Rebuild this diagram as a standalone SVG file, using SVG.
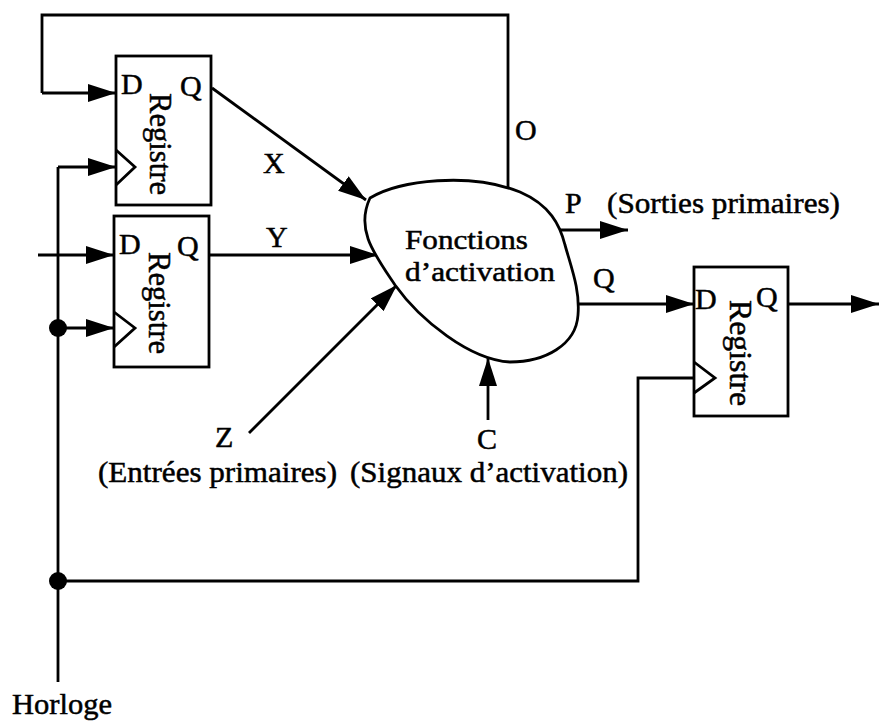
<svg xmlns="http://www.w3.org/2000/svg" width="879" height="722" viewBox="0 0 879 722">
<defs>
<marker id="arr" markerUnits="userSpaceOnUse" markerWidth="28" markerHeight="18" refX="28" refY="9" orient="auto">
<path d="M0,0 L28,9 L0,18 Z" fill="#000"/>
</marker>
<style>
.w{fill:none;stroke:#000;stroke-width:2.8}
.a{fill:none;stroke:#000;stroke-width:2.8;marker-end:url(#arr)}
.b{fill:#fff;stroke:#000;stroke-width:2.8}
text{font-family:"Liberation Serif","Times New Roman",serif;font-size:30px;fill:#000;stroke:#000;stroke-width:0.5}
.m{text-anchor:middle}
.r{font-size:31px}
.f{font-size:28px}
</style>
</defs>
<rect width="879" height="722" fill="#fff"/>
<g id="connectors">
<polyline class="w" points="508,188 508,15 42,15 42,93"/>
<line class="a" x1="42" y1="93" x2="116" y2="93"/>
<line class="a" x1="38" y1="255" x2="114" y2="255"/>
<polyline class="w" points="58,682 58,167"/>
<line class="a" x1="58" y1="167" x2="116" y2="167"/>
<line class="a" x1="58" y1="328" x2="114" y2="328"/>
<polyline class="w" points="58,581 638,581 638,378 694,378"/>
<circle cx="58" cy="328" r="9" fill="#000"/>
<circle cx="58" cy="581" r="9" fill="#000"/>
<line class="a" x1="212" y1="88" x2="366" y2="200"/>
<line class="a" x1="209" y1="255" x2="378" y2="255"/>
<line class="a" x1="249" y1="433" x2="397" y2="285"/>
<line class="a" x1="488" y1="420" x2="488" y2="358"/>
<line class="a" x1="558" y1="230" x2="628" y2="230"/>
<line class="a" x1="578" y1="304" x2="694" y2="304"/>
<line class="a" x1="788" y1="304" x2="879" y2="304"/>
</g>
<g id="reg1">
<rect class="b" x="116" y="56" width="95" height="149"/>
<polyline class="w" points="116,150 135,167 116,185"/>
<text x="121" y="94">D</text>
<text x="180" y="96">Q</text>
<text class="m r" transform="translate(150,144) rotate(90)" textLength="102" lengthAdjust="spacingAndGlyphs">Registre</text>
</g>
<g id="reg2">
<rect class="b" x="114" y="216" width="95" height="151"/>
<polyline class="w" points="114,312 135,328 114,347"/>
<text x="119" y="254">D</text>
<text x="177" y="256">Q</text>
<text class="m r" transform="translate(149,303) rotate(90)" textLength="102" lengthAdjust="spacingAndGlyphs">Registre</text>
</g>
<g id="reg3">
<rect class="b" x="694" y="267" width="94" height="149"/>
<polyline class="w" points="694,362 715,378 694,393"/>
<text x="695" y="309">D</text>
<text x="756" y="307">Q</text>
<text class="m r" transform="translate(730,353) rotate(90)" textLength="106" lengthAdjust="spacingAndGlyphs">Registre</text>
</g>
<g id="fonctions">
<path class="b" d="M370,198 C400,180 470,172 520,192 C550,205 560,225 565,245 C572,270 580,290 578,315 C576,345 545,362 510,362 C470,360 420,320 395,285 C375,255 355,230 370,198 Z"/>
<text class="f" x="405" y="249" textLength="123" lengthAdjust="spacingAndGlyphs">Fonctions</text>
<text class="f" x="405" y="281" textLength="150" lengthAdjust="spacingAndGlyphs">d’activation</text>
</g>
<g id="labels">
<text x="263" y="173">X</text>
<text x="266" y="247">Y</text>
<text x="515" y="140">O</text>
<text x="565" y="213">P</text>
<text x="607" y="213" textLength="233" lengthAdjust="spacingAndGlyphs">(Sorties primaires)</text>
<text x="593" y="288">Q</text>
<text x="215" y="447">Z</text>
<text x="477" y="449">C</text>
<text x="98" y="482" textLength="239" lengthAdjust="spacingAndGlyphs">(Entrées primaires)</text>
<text x="350" y="482" textLength="278" lengthAdjust="spacingAndGlyphs">(Signaux d’activation)</text>
<text x="12" y="714" textLength="100" lengthAdjust="spacingAndGlyphs">Horloge</text>
</g>
</svg>
